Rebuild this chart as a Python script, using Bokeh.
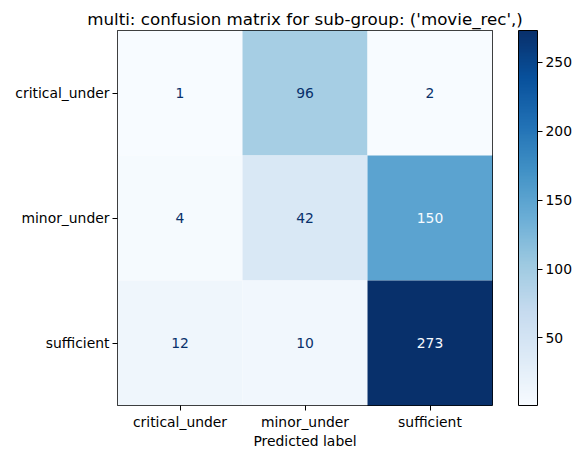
from bokeh.plotting import figure
from bokeh.models import ColumnDataSource, ColorBar, LinearColorMapper, FixedTicker
from bokeh.palettes import Blues256
from bokeh.core.properties import value
from bokeh.embed import file_html
from bokeh.resources import INLINE

title = "multi: confusion matrix for sub-group: ('movie_rec',)"
labels = ["critical_under", "minor_under", "sufficient"]
# rows = true label, cols = predicted label
matrix = [
    [1, 96, 2],
    [4, 42, 150],
    [12, 10, 273],
]
cbar_ticks = [50, 100, 150, 200, 250]

FONT = "DejaVu Sans"
TICK_FS = "13.9px"
palette = list(Blues256)[::-1]  # light -> dark
vmin = min(min(r) for r in matrix)
vmax = max(max(r) for r in matrix)
thresh = (vmin + vmax) / 2.0

xs, ys, vals, tcol, txt = [], [], [], [], []
for i, t in enumerate(labels):
    for j, pr in enumerate(labels):
        v = matrix[i][j]
        xs.append(pr)
        ys.append(t)
        vals.append(v)
        txt.append(str(v))
        tcol.append("#f7fbff" if v > thresh else "#08306b")

src = ColumnDataSource(dict(x=xs, y=ys, v=vals, c=tcol, t=txt))
mapper = LinearColorMapper(palette=palette, low=vmin, high=vmax)

p = figure(
    frame_width=375, frame_height=375,
    x_range=labels, y_range=labels[::-1],
    output_backend="svg", toolbar_location=None,
    min_border_left=117, min_border_right=68,
    min_border_top=30, min_border_bottom=40,
)

p.rect(x="x", y="y", width=1, height=1, source=src,
       fill_color={"field": "v", "transform": mapper}, line_color=None)
p.text(x="x", y="y", text="t", source=src, text_color="c",
       text_align="center", text_baseline="middle",
       text_font=value(FONT), text_font_size=TICK_FS)

p.title.text = title
p.title.align = "center"
p.title.text_font = FONT
p.title.text_font_size = "16.7px"
p.title.text_font_style = "normal"
p.title.text_color = "black"
p.title.standoff = 4

p.xgrid.visible = False
p.ygrid.visible = False
p.outline_line_color = "black"
p.outline_line_width = 1
p.outline_line_alpha = 1

for ax in (p.xaxis, p.yaxis):
    ax.axis_line_color = None
    ax.major_tick_in = 0
    ax.major_tick_out = 5
    ax.major_tick_line_color = "black"
    ax.minor_tick_line_color = None
    ax.major_label_text_font = FONT
    ax.major_label_text_font_size = TICK_FS
    ax.major_label_text_color = "black"
    ax.major_label_standoff = 3
p.xaxis.major_label_standoff = 3
p.xaxis.axis_label = "Predicted label"
p.xaxis.axis_label_text_font = FONT
p.xaxis.axis_label_text_font_size = TICK_FS
p.xaxis.axis_label_text_font_style = "normal"
p.xaxis.axis_label_text_color = "black"
p.xaxis.axis_label_standoff = 0

cb = ColorBar(
    color_mapper=mapper, ticker=FixedTicker(ticks=cbar_ticks),
    width=19, height=375, padding=0, margin=0,
    bar_line_color="black", bar_line_width=1,
    major_tick_in=0, major_tick_out=5, major_tick_line_color="black",
    minor_tick_line_color=None,
    major_label_text_font=FONT, major_label_text_font_size=TICK_FS,
    major_label_text_color="black", label_standoff=3,
    background_fill_alpha=0, border_line_color=None,
    location=(26, 0),
)
p.add_layout(cb, "right")

open("out.html", "w").write(file_html(p, INLINE))
